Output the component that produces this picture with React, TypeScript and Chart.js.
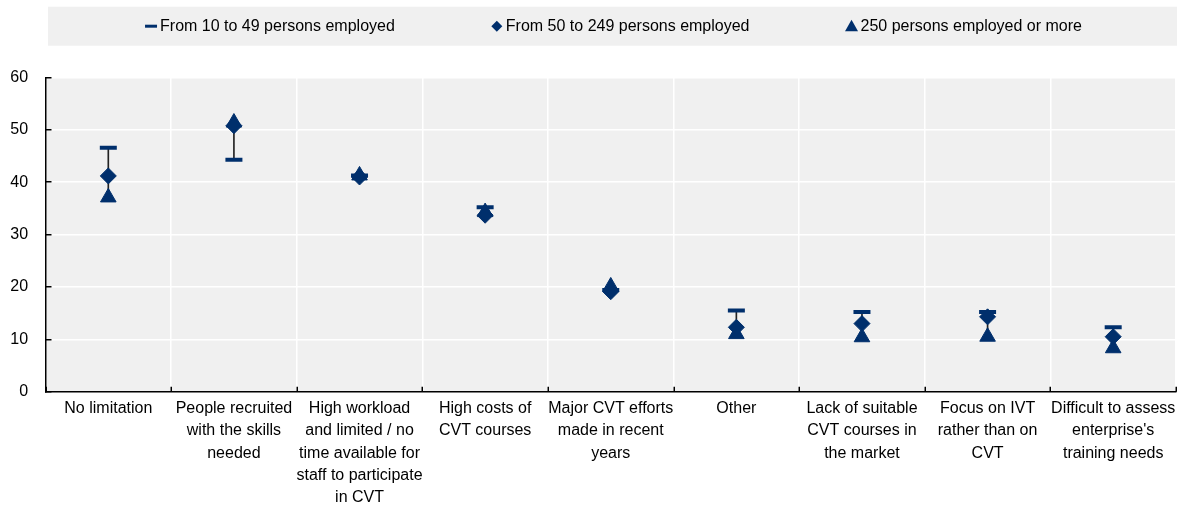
import React, { useEffect, useRef } from 'react';
import { Chart, registerables } from 'chart.js';

Chart.register(...registerables);

// Reasons for not providing (more) CVT, by enterprise size (% of enterprises)
const categories: (string | string[])[] = [
  'No limitation',
  ['People recruited', 'with the skills', 'needed'],
  ['High workload', 'and limited / no', 'time available for', 'staff to participate', 'in CVT'],
  ['High costs of', 'CVT courses'],
  ['Major CVT efforts', 'made in recent', 'years'],
  'Other',
  ['Lack of suitable', 'CVT courses in', 'the market'],
  ['Focus on IVT', 'rather than on', 'CVT'],
  ['Difficult to assess', "enterprise's", 'training needs'],
];

const small = [46.6, 44.3, 41.3, 35.2, 19.4, 15.5, 15.2, 15.2, 12.3];
const medium = [41.2, 50.8, 41.0, 33.7, 19.1, 12.3, 13.0, 14.3, 10.5];
const large = [37.1, 51.4, 41.3, 34.3, 20.1, 11.0, 10.4, 10.5, 8.3];

const seriesNames = [
  'From 10 to 49 persons employed',
  'From 50 to 249 persons employed',
  '250 persons employed or more',
];

const yMin = 0;
const yMax = 60;
const yStep = 10;

const NAVY = '#002F6C';
const PANEL = '#F0F0F0';
const FONT = '"Liberation Sans", Arial, Helvetica, sans-serif';

// Vertical range line spanning the three size classes in each category
const ranges = categories.map((_, i) => {
  const vals = [small[i], medium[i], large[i]];
  return [Math.min(...vals), Math.max(...vals)];
});

const plotBackground = {
  id: 'plotBackground',
  beforeDraw(chart: any) {
    const { ctx, chartArea } = chart;
    ctx.save();
    ctx.fillStyle = PANEL;
    ctx.fillRect(chartArea.left, chartArea.top, chartArea.right - chartArea.left, chartArea.bottom - chartArea.top);
    ctx.restore();
  },
};

// Short inward tick marks at the category boundaries of the x axis
const categoryTicks = {
  id: 'categoryTicks',
  afterDraw(chart: any) {
    const { ctx, chartArea } = chart;
    const xs = chart.scales.x;
    const n = xs.ticks.length;
    const bounds: number[] = [chartArea.left];
    for (let i = 1; i < n; i++) {
      bounds.push((xs.getPixelForTick(i - 1) + xs.getPixelForTick(i)) / 2);
    }
    bounds.push(chartArea.right);
    ctx.save();
    ctx.strokeStyle = '#000000';
    ctx.lineWidth = 1.5;
    ctx.beginPath();
    bounds.forEach((b) => {
      const x = Math.round(b) + 0.25;
      ctx.moveTo(x, chartArea.bottom);
      ctx.lineTo(x, chartArea.bottom - 5);
    });
    ctx.stroke();
    ctx.restore();
  },
};

function drawLegendMarker(ctx: CanvasRenderingContext2D, kind: number, cx: number, cy: number) {
  ctx.fillStyle = NAVY;
  ctx.beginPath();
  if (kind === 0) {
    ctx.rect(cx - 6, cy - 1.5, 12, 3);
  } else if (kind === 1) {
    ctx.moveTo(cx, cy - 5.5);
    ctx.lineTo(cx + 5.5, cy);
    ctx.lineTo(cx, cy + 5.5);
    ctx.lineTo(cx - 5.5, cy);
    ctx.closePath();
  } else {
    ctx.moveTo(cx, cy - 6.5);
    ctx.lineTo(cx + 6.5, cy + 5);
    ctx.lineTo(cx - 6.5, cy + 5);
    ctx.closePath();
  }
  ctx.fill();
}

const legendPanel = {
  id: 'legendPanel',
  afterDraw(chart: any) {
    const { ctx, chartArea } = chart;
    ctx.save();
    const boxLeft = chartArea.left + 2.5;
    const boxRight = chartArea.right + 1;
    const boxTop = 6.7;
    const boxHeight = 39;
    ctx.fillStyle = PANEL;
    ctx.fillRect(boxLeft, boxTop, boxRight - boxLeft, boxHeight);

    ctx.font = `16px ${FONT}`;
    ctx.textBaseline = 'middle';
    ctx.textAlign = 'left';
    const cy = boxTop + boxHeight / 2;
    const markerHalf = 6;
    const textGap = 9;
    const itemGap = 102;
    const widths = seriesNames.map((n) => ctx.measureText(n).width);
    let total = 0;
    widths.forEach((w, i) => {
      total += markerHalf + textGap + w;
      if (i < widths.length - 1) total += itemGap - markerHalf;
    });
    const center = (boxLeft + boxRight) / 2 + 1;
    let x = center - total / 2;
    seriesNames.forEach((name, i) => {
      const mx = x + markerHalf;
      drawLegendMarker(ctx, i, mx, cy);
      ctx.fillStyle = '#000';
      ctx.fillText(name, mx + textGap, cy);
      x = mx + textGap + widths[i] + itemGap - markerHalf;
    });
    ctx.restore();
  },
};

export default function App() {
  const canvasRef = useRef<HTMLCanvasElement | null>(null);

  useEffect(() => {
    if (!canvasRef.current) return;
    Chart.defaults.font.family = FONT;
    const chart = new Chart(canvasRef.current, {
      type: 'bar',
      data: {
        labels: categories,
        datasets: [
          {
            type: 'line',
            label: seriesNames[0],
            data: small,
            showLine: false,
            pointStyle: 'line',
            pointRadius: 8.5,
            pointHoverRadius: 8.5,
            pointBorderWidth: 4,
            pointBorderColor: NAVY,
            pointBackgroundColor: NAVY,
            borderColor: NAVY,
            order: 1,
          },
          {
            type: 'line',
            label: seriesNames[1],
            data: medium,
            showLine: false,
            pointStyle: 'rectRot',
            pointRadius: 8,
            pointHoverRadius: 8,
            pointBorderWidth: 1,
            pointBorderColor: NAVY,
            pointBackgroundColor: NAVY,
            borderColor: NAVY,
            order: 2,
          },
          {
            type: 'line',
            label: seriesNames[2],
            data: large,
            showLine: false,
            pointStyle: 'triangle',
            pointRadius: 9,
            pointHoverRadius: 9,
            pointBorderWidth: 1,
            pointBorderColor: NAVY,
            pointBackgroundColor: NAVY,
            borderColor: NAVY,
            order: 3,
          },
          {
            type: 'bar',
            label: 'range',
            data: ranges as any,
            backgroundColor: '#222222',
            barThickness: 1,
            grouped: false,
            order: 10,
          },
        ],
      },
      options: {
        animation: false,
        responsive: false,
        layout: { autoPadding: false, padding: { top: 77.5, right: 5, bottom: 0, left: 0 } },
        plugins: {
          legend: { display: false },
          tooltip: { enabled: false },
        },
        scales: {
          x: {
            type: 'category',
            offset: true,
            grid: {
              offset: true,
              color: '#FFFFFF',
              lineWidth: 1.5,
              drawTicks: false,
            },
            border: { display: true, color: '#000000', width: 1.5 },
            ticks: {
              color: '#000000',
              font: { size: 16, lineHeight: 1.4 },
              padding: 5.5,
              maxRotation: 0,
              minRotation: 0,
              autoSkip: false,
            },
            afterFit(scale: any) {
              scale.height = 115.3;
              scale.paddingLeft = 0;
              scale.paddingRight = 0;
            },
          },
          y: {
            min: yMin,
            max: yMax,
            grid: {
              color: '#FFFFFF',
              lineWidth: 1.5,
              tickColor: '#000000',
              tickLength: -6,
              tickWidth: 1.5,
            },
            border: { display: true, color: '#000000', width: 1.5 },
            ticks: {
              stepSize: yStep,
              color: '#000000',
              font: { size: 16 },
              padding: 23.4,
            },
            afterFit(scale: any) {
              scale.width = 45.5;
            },
          },
        },
      },
      plugins: [plotBackground, categoryTicks, legendPanel],
    });
    return () => chart.destroy();
  }, []);

  return (
    <div style={{ position: 'absolute', left: 0, top: 0, width: 1181, height: 507, background: '#FFFFFF' }}>
      <canvas ref={canvasRef} width={1181} height={507} />
    </div>
  );
}
